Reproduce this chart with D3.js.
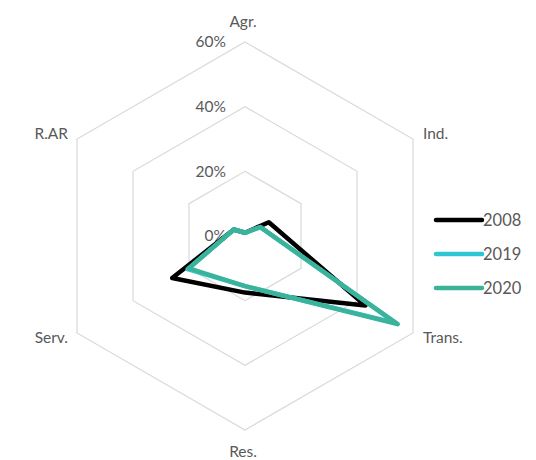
<!DOCTYPE html>
<html>
<head>
<meta charset="utf-8">
<script src="https://cdn.jsdelivr.net/npm/d3@7"></script>
<style>
  html, body { margin: 0; padding: 0; background: #ffffff; }
  svg { display: block; }
  text { font-family: Lato, "Open Sans", sans-serif; fill: #595959; }
</style>
</head>
<body>
<div id="chart"></div>
<script>
// Sector shares of final energy use (fraction of total)
const categories = ["Agr.", "Ind.", "Trans.", "Res.", "Serv.", "R.AR"];
const years = ["2008", "2019", "2020"];
const values2008 = [0.010, 0.085, 0.430, 0.175, 0.260, 0.040];
const values2019 = [0.010, 0.055, 0.540, 0.155, 0.205, 0.040];
const values2020 = [0.010, 0.055, 0.545, 0.155, 0.200, 0.040];
const tickValues = [0, 0.2, 0.4, 0.6];
const tickLabels = ["0%", "20%", "40%", "60%"];
const seriesColors = ["#000000", "#2ec6d2", "#3bb39a"];

const width = 536, height = 460;
const cx = 245, cy = 236, radius = 194;

const svg = d3.select("#chart").append("svg")
  .attr("width", width).attr("height", height);

const r = d3.scaleLinear().domain([0, 0.6]).range([0, radius]);
const angle = d3.scaleLinear().domain([0, categories.length]).range([0, 2 * Math.PI]);

const g = svg.append("g").attr("transform", `translate(${cx},${cy})`);

// hexagonal gridlines at each tick value
const ring = d3.lineRadial()
  .angle((d, i) => angle(i))
  .radius(d => r(d))
  .curve(d3.curveLinearClosed);

g.selectAll("path.grid")
  .data(tickValues.filter(v => v > 0))
  .join("path")
  .attr("class", "grid")
  .attr("d", v => ring(categories.map(() => v)))
  .attr("fill", "none")
  .attr("stroke", "#d9d9d9")
  .attr("stroke-width", 1.2);

// value labels along the top spoke
g.selectAll("text.tick")
  .data(tickValues)
  .join("text")
  .attr("class", "tick")
  .attr("x", -19)
  .attr("y", v => -r(v))
  .attr("dy", "0.35em")
  .attr("text-anchor", "end")
  .attr("font-size", 15.5)
  .text((v, i) => tickLabels[i]);

// category labels outside the outer ring
const outer = r(0.6);
g.selectAll("text.cat")
  .data(categories)
  .join("text")
  .attr("class", "cat")
  .attr("font-size", 15.5)
  .each(function (d, i) {
    const a = angle(i);
    const x = outer * Math.sin(a), y = -outer * Math.cos(a);
    const s = Math.sin(a), c = Math.cos(a);
    const t = d3.select(this);
    if (Math.abs(s) < 0.01) {
      t.attr("text-anchor", "middle")
        .attr("x", x - 2)
        .attr("y", c > 0 ? y - 20 : y + 22)
        .attr("dy", "0.35em");
    } else {
      t.attr("text-anchor", s > 0 ? "start" : "end")
        .attr("x", x + (s > 0 ? 10 : -9))
        .attr("y", y + (c > 0 ? -5 : 5))
        .attr("dy", "0.35em");
    }
  })
  .text(d => d);

// series polygons
const series = [values2008, values2019, values2020];
const line = d3.lineRadial()
  .angle((d, i) => angle(i))
  .radius(d => r(d))
  .curve(d3.curveLinearClosed);

g.selectAll("path.series")
  .data(series)
  .join("path")
  .attr("class", "series")
  .attr("d", d => line(d))
  .attr("fill", "none")
  .attr("stroke", (d, i) => seriesColors[i])
  .attr("stroke-width", 4.5)
  .attr("stroke-linejoin", "round");

// legend
const legend = svg.append("g").attr("transform", "translate(436,220)");
const item = legend.selectAll("g")
  .data(years)
  .join("g")
  .attr("transform", (d, i) => `translate(0,${i * 34})`);
item.append("line")
  .attr("x1", 0).attr("x2", 46)
  .attr("y1", 0).attr("y2", 0)
  .attr("stroke", (d, i) => seriesColors[i])
  .attr("stroke-width", 4.5)
  .attr("stroke-linecap", "round");
item.append("text")
  .attr("x", 47)
  .attr("y", 0)
  .attr("dy", "0.35em")
  .attr("font-size", 16.5)
  .text(d => d);
</script>
</body>
</html>
